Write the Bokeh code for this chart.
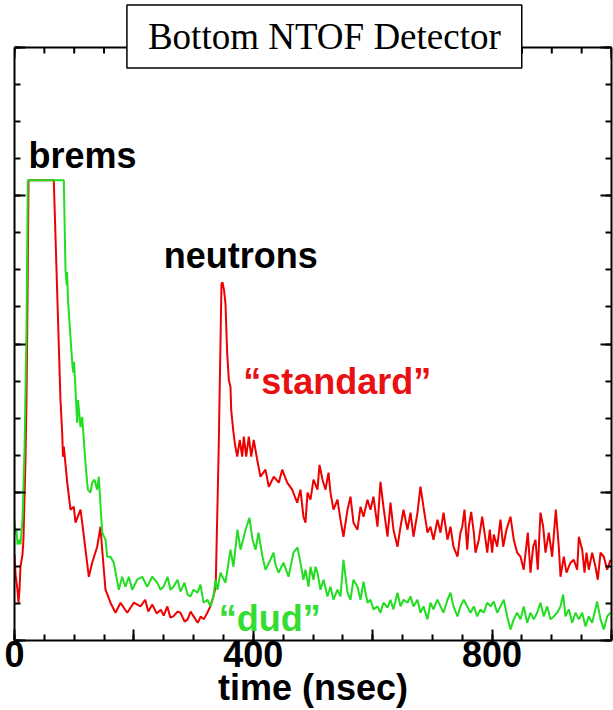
from bokeh.plotting import figure
from bokeh.models import Label, LinearAxis, FixedTicker, Span
from bokeh.embed import file_html
from bokeh.resources import INLINE

# ---- data (time in nsec, signal in arbitrary units; 16 = top of the boxed frame) ----
standard_t = [0, 1.7, 5, 6.7, 8.4, 10, 13.4, 15, 18.4, 20.1, 21.8, 23.5, 65.8, 77,
              79.9, 81.2, 82.6, 88.3, 93.8, 99.3, 102.2, 110.6, 113.4, 124.5, 130.1, 138.5,
              144, 146.9, 152.4, 160.8, 169.2, 177.6, 188.8, 199.8, 211, 219, 224, 231, 238,
              245, 250, 256, 261, 266, 273, 278, 285, 290, 295, 300, 307, 312, 317, 323, 328,
              333, 337, 342, 346.7, 348.4, 350.9, 353.4, 356.2, 359, 361.8, 363, 366.3, 369,
              373, 377.4, 381.4, 384.1, 388.1, 392.5, 396.5, 400.8, 406.5, 412, 420.4, 426,
              434.3, 442.7, 448.4, 456.8, 465.1, 473.5, 479, 484, 487.4, 490.8, 495.8, 500.8,
              507.5, 510.9, 515.9, 520.9, 526, 529.3, 534.3, 541, 546, 551, 557.8, 562.8,
              567.8, 574.5, 579.6, 584.6, 591.3, 596.3, 601.3, 608, 613, 618, 624.8, 629.8,
              634.8, 641.5, 646.6, 651.6, 658.3, 663.3, 668.3, 675, 680, 685, 691.8, 696.8,
              701.8, 708.5, 713.6, 718.6, 725.3, 730.3, 735.3, 742, 747, 750, 753.8, 758.3,
              761, 765, 769.4, 772.2, 777.8, 783.4, 789, 791.8, 796.2, 800.1, 802.8, 808.5,
              814, 818.6, 824, 830.8, 836.3, 842, 847.6, 853, 859.8, 864.3, 868.8, 872.7,
              876.5, 881, 885.6, 889.4, 895, 900.6, 906.7, 911.7, 914.6, 920.1, 924.6, 931.3,
              936.8, 942.5, 945.3, 950.9, 954.8, 958.1, 962, 967.6, 973.2, 977, 981.6, 987.1,
              992.8, 998.3]
standard_v = [2.32, 1.78, 1.37, 1.02, 1.37, 1.99, 2.32, 2.72, 4.88, 6.49, 9.19, 12.42, 12.42, 6.49,
              5.60, 4.96, 5.23, 4.26, 3.53, 3.61, 3.18, 3.53, 3.18, 1.72, 2.10, 2.53,
              3.07, 2.45, 1.37, 1.02, 0.75, 1.02, 0.75, 1.02, 0.92, 1.10, 0.78, 0.97, 0.73,
              0.83, 0.67, 0.92, 0.62, 0.65, 0.78, 0.75, 0.51, 0.57, 0.78, 0.65, 0.48, 0.65, 0.57, 0.75, 0.92,
              1.18, 1.45, 5.14, 9.62, 9.67, 9.46, 9.10, 7.76, 7.03, 6.84, 6.22, 5.68, 5.33,
              4.96, 5.41, 4.96, 5.50, 4.96, 5.50, 4.96, 5.41, 4.88, 4.42, 4.61, 4.15,
              4.42, 4.26, 4.61, 4.26, 4.07, 3.72, 4.07, 3.34, 3.18, 3.99, 3.80, 4.34,
              4.07, 4.74, 4.34, 4.07, 4.53, 3.99, 3.53, 3.80, 3.26, 2.80, 3.53, 3.88,
              3.18, 2.99, 3.61, 3.34, 3.80, 3.53, 3.88, 3.07, 4.28, 3.61, 2.80, 3.72,
              2.99, 2.53, 3.07, 3.53, 2.99, 3.45, 2.80, 3.45, 4.15, 3.61, 2.91, 3.07,
              2.72, 3.26, 2.91, 3.45, 2.72, 3.07, 2.53, 2.26, 2.91, 3.07, 3.53, 2.45,
              3.07, 3.47, 2.91, 2.37, 2.72, 3.34, 2.72, 2.37, 2.99, 2.37, 2.86, 2.53,
              3.26, 2.53, 2.99, 3.34, 2.72, 2.37, 2.26, 1.91, 2.91, 1.83, 2.53, 2.72,
              1.91, 3.45, 3.07, 2.37, 2.91, 2.26, 3.53, 2.53, 1.72, 2.26, 1.83, 2.10,
              2.18, 1.91, 2.80, 2.45, 1.83, 2.37, 1.91, 2.37, 1.99, 1.64, 2.37, 2.26,
              1.91, 2.18]

dud_t = [0, 1.7, 3.4, 5, 8.4, 10, 13.4, 16.8, 20.1, 22.3, 82.6, 85.4, 86.3, 87.4, 88.1, 89.6,
         97.2, 98.8, 99.8, 101.3, 105, 106.4, 110.6, 113.4, 118.9, 122.8, 127.3, 130.1, 134,
         138.5, 141.2, 146.9, 152.4, 155.3, 160.8, 166.3, 174.7, 180.4, 185.9, 191.5, 197.1,
         205.5, 213.9, 222.3, 230.6, 239, 244.6, 249.6, 256.3, 261.3, 266.3, 273, 278, 284.8,
         289.8, 294.8, 299.8, 306.5, 311.6, 316.6, 323.3, 328.3, 333.3, 336.7, 340, 345,
         353.4, 361.8, 366.8, 373.5, 378.6, 387, 393.6, 398.7, 403.7, 408.7, 415.4, 420.4,
         428.8, 433.8, 437.2, 442.2, 450.6, 459, 467.3, 474, 479, 484, 487.4, 492.5, 495.8,
         500.8, 504.2, 507.5, 512.5, 517.6, 524.3, 529.3, 534.3, 541, 546, 551, 557.8, 562.8,
         567.8, 574.5, 579.6, 584.6, 591.3, 596.3, 601.3, 608, 613, 618, 624.8, 629.8, 634.8,
         641.5, 646.6, 651.6, 658.3, 663.3, 668.3, 675, 680, 685, 691.8, 696.8, 701.8, 708.5,
         713.6, 718.6, 725.3, 730.3, 735.3, 742, 747, 752.6, 758.3, 763.8, 769.4, 775, 780.6,
         786.1, 791.8, 797.4, 802.8, 808.5, 814, 819.6, 825.3, 830.8, 836.3, 842, 847.6, 853,
         858.8, 864.3, 869.8, 875.5, 881, 886.6, 892.3, 897.8, 903.3, 909, 914.6, 919, 922.9,
         928.5, 934.2, 939.7, 945.3, 950.9, 956.4, 962, 967.6, 976, 981.6, 987.1, 992.8, 998.3]
dud_v = [3.26, 2.86, 2.99, 2.59, 2.72, 2.59, 3.26, 5.14, 8.38, 12.42, 12.42, 9.99, 9.83, 9.59, 9.94, 9.19,
         7.38, 7.22, 7.52, 7.03, 5.87, 6.49, 5.76, 6.03, 4.79, 4.07, 3.99, 4.26, 4.34,
         4.07, 4.42, 2.91, 2.72, 2.26, 2.26, 2.10, 1.37, 1.72, 1.45, 1.72, 1.37,
         1.64, 1.72, 1.45, 1.72, 1.56, 1.37, 1.45, 1.72, 1.37, 1.45, 1.64, 1.32, 1.56,
         1.24, 1.19, 1.37, 1.29, 1.51, 1.02, 1.10, 0.92, 1.19, 1.64, 1.37, 1.83,
         1.56, 2.45, 1.99, 2.99, 2.45, 2.99, 3.31, 2.72, 2.45, 2.91, 2.26, 1.91,
         2.18, 2.37, 2.05, 1.83, 2.10, 1.72, 2.37, 2.51, 2.10, 1.64, 1.91, 1.45, 1.99,
         1.64, 1.99, 1.83, 1.37, 1.64, 1.19, 1.45, 1.10, 1.37, 1.19, 2.18, 1.29, 1.10,
         1.64, 1.45, 1.10, 1.59, 1.02, 1.10, 0.84, 0.92, 0.75, 1.02, 0.89, 1.10, 0.84,
         1.29, 0.92, 1.10, 1.02, 1.19, 0.92, 1.10, 0.75, 0.92, 0.57, 1.02, 0.84, 1.10,
         0.92, 0.75, 1.10, 1.29, 0.92, 0.65, 0.92, 1.10, 0.92, 0.75, 0.92, 0.65, 0.84,
         0.75, 1.02, 0.92, 1.05, 0.75, 0.92, 1.10, 0.65, 0.30, 0.57, 0.75, 0.57, 0.92,
         0.48, 0.75, 0.57, 0.75, 1.02, 0.65, 0.92, 0.57, 0.65, 0.75, 0.92, 1.24, 0.65,
         0.84, 0.48, 0.75, 0.57, 0.75, 0.38, 0.65, 0.48, 1.05, 0.57, 0.30, 0.65, 0.75]

x_major = [0, 200, 400, 600, 800, 1000]
x_minor = list(range(0, 1001, 50))
x_labels = {0: "0", 200: "", 400: "400", 600: "", 800: "800", 1000: ""}
y_major = [0, 4, 8, 12, 16]
y_minor = list(range(0, 17))
Y_TOP = 16          # top edge of the boxed frame
Y_VIEW_TOP = 17.27  # range extends above the box so the title box is not clipped

RED = "#ee0000"
GREEN = "#22dd22"
FONT = "Liberation Sans"
PX_PER_Y = 641 / Y_VIEW_TOP  # pixels per y unit (frame height 641 px)

p = figure(width=613, height=710, x_range=(0, 1000), y_range=(0, Y_VIEW_TOP),
           output_backend="svg", toolbar_location=None,
           min_border_left=14, min_border_right=2, min_border_top=0, min_border_bottom=69,
           x_axis_location=None, y_axis_location=None)
p.grid.visible = False
p.outline_line_color = None
p.background_fill_color = "white"
p.border_fill_color = "white"


def style_axis(ax, ticks, minor, labels=None):
    ax.ticker = FixedTicker(ticks=ticks, minor_ticks=minor)
    ax.axis_line_color = "black"
    ax.axis_line_width = 2
    ax.major_tick_line_color = "black"
    ax.major_tick_line_width = 2
    ax.minor_tick_line_color = "black"
    ax.minor_tick_line_width = 2
    ax.major_tick_in = 11
    ax.major_tick_out = 0
    ax.minor_tick_in = 6
    ax.minor_tick_out = 0
    if labels is None:
        ax.major_label_text_font_size = "0px"
        ax.major_label_standoff = 0
        ax.major_label_text_color = None
    else:
        ax.major_label_overrides = labels
        ax.major_label_text_font = FONT
        ax.major_label_text_font_style = "bold"
        ax.major_label_text_font_size = "36px"
        ax.major_label_text_color = "black"
        ax.major_label_standoff = 0


bottom = LinearAxis(axis_label="time (nsec)")
style_axis(bottom, x_major, x_minor, x_labels)
bottom.axis_label_text_font = FONT
bottom.axis_label_text_font_style = "bold"
bottom.axis_label_text_font_size = "36px"
bottom.axis_label_text_color = "black"
bottom.axis_label_standoff = -3
p.add_layout(bottom, "below")

left = LinearAxis(bounds=(0, Y_TOP))
style_axis(left, y_major, y_minor)
p.add_layout(left, "left")
right = LinearAxis(bounds=(0, Y_TOP))
style_axis(right, y_major, y_minor)
p.add_layout(right, "right")

# top edge of the box with inward ticks
p.add_layout(Span(location=Y_TOP, dimension="width", line_color="black", line_width=2))
p.segment(x0=x_minor, y0=[Y_TOP] * len(x_minor), x1=x_minor,
          y1=[Y_TOP - 6 / PX_PER_Y] * len(x_minor), line_color="black", line_width=2)
p.segment(x0=x_major, y0=[Y_TOP] * len(x_major), x1=x_major,
          y1=[Y_TOP - 11 / PX_PER_Y] * len(x_major), line_color="black", line_width=2)

p.line(standard_t, standard_v, line_color=RED, line_width=2)
p.line(dud_t, dud_v, line_color=GREEN, line_width=2)


def add_text(txt, x, y, color, align="left"):
    p.add_layout(Label(x=x, y=y, text=txt, text_font=FONT, text_font_style="bold",
                       text_font_size="36px", text_color=color, text_align=align,
                       text_baseline="alphabetic"))


add_text("brems", 23.5, 13.09, "black")
add_text("neutrons", 250, 10.40, "black")
add_text("\u201cstandard\u201d", 383, 7.0, "#e81010")
add_text("\u201cdud\u201d", 342, 0.59, "#33dd33")

p.add_layout(Label(x=519, y=16.30, text="Bottom NTOF Detector", text_font="Liberation Serif",
                   text_font_size="37px", text_color="black", text_align="center",
                   text_baseline="middle", background_fill_color="white",
                   border_line_color="black", border_line_width=1.5,
                   padding=dict(left=21, right=21, top=11, bottom=11)))

open("out.html", "w").write(file_html(p, INLINE))
